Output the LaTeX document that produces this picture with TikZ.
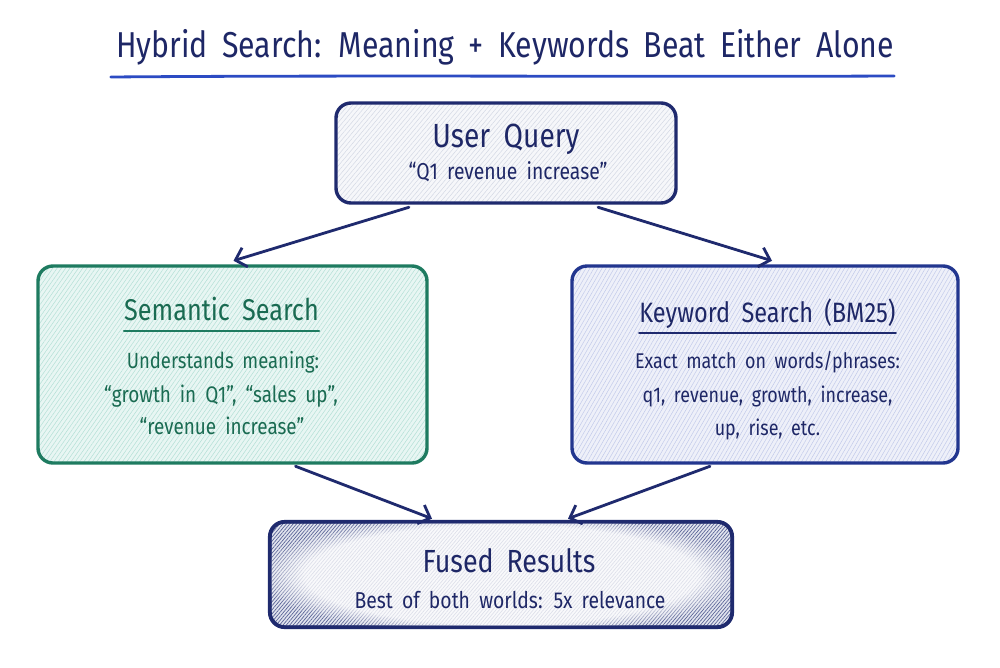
\documentclass[tikz,border=0pt]{standalone}
\usepackage{fontspec}
\setmainfont{Fira Sans}[FakeStretch=0.84,WordSpace=1.8]
\usetikzlibrary{arrows.meta,patterns.meta,fadings,calc}
\definecolor{navy}{HTML}{1F2A6E}
\definecolor{titletext}{HTML}{1E2766}
\definecolor{ulblue}{HTML}{2C4BC3}
\definecolor{green}{HTML}{1E7B60}
\definecolor{greentext}{HTML}{1A6B52}
\definecolor{semfill}{HTML}{E8F6F3}
\definecolor{semlines}{HTML}{B3DFD6}
\definecolor{kwborder}{HTML}{22368F}
\definecolor{kwfill}{HTML}{EEF0F9}
\definecolor{kwlines}{HTML}{C2CAEA}
\definecolor{uqfill}{HTML}{F6F7FA}
\definecolor{uqlines}{HTML}{D3D8E4}
\definecolor{fufill}{HTML}{E2E5EF}
\definecolor{fulines}{HTML}{5A6396}
\tikzset{
  box/.style={draw, rounded corners=15pt, line width=3.4pt, inner sep=0pt},
  uqbox/.style={box, draw=navy, preaction={fill=uqfill},
    pattern={Lines[angle=50,distance=3.5pt,line width=0.5pt]}, pattern color=uqlines},
  sembox/.style={box, draw=green, preaction={fill=semfill},
    pattern={Lines[angle=55,distance=3.5pt,line width=0.5pt]}, pattern color=semlines},
  kwbox/.style={box, draw=kwborder, preaction={fill=kwfill},
    pattern={Lines[angle=60,distance=3.5pt,line width=0.5pt]}, pattern color=kwlines},
  fubox/.style={box, draw=navy, preaction={fill=fufill},
    pattern={Lines[angle=50,distance=2.6pt,line width=0.7pt]}, pattern color=fulines},
  maintitle/.style={anchor=base, text=titletext, font=\fontsize{36}{40}\selectfont, inner sep=0pt},
  boxtitle/.style={anchor=base, inner sep=0pt},
  boxbody/.style={anchor=base, inner sep=0pt},
  conn/.style={draw=navy, line width=2.8pt, line cap=round,
    -{Straight Barb[length=10pt,width=20pt,line width=2.8pt]}},
}
\begin{document}
\begin{tikzpicture}[x=1pt,y=-1pt]
\useasboundingbox (0,0) rectangle (1000,667);
\fill[white] (0,0) rectangle (1000,667);

% title
\node[maintitle] (title) at (505,57) {Hybrid Search: Meaning + Keywords Beat Either Alone};
\draw[ulblue, line width=2.8pt, line cap=round] ($(title.base west)+(-5,20)$) .. controls ($(title.base)+(-150,18)$) and ($(title.base)+(150,20)$) .. ($(title.base east)+(0,19)$);

% boxes
\node[uqbox, minimum width=340pt, minimum height=100pt] (uq) at (506,153) {};
\node[sembox, minimum width=389pt, minimum height=197pt] (sem) at (232.5,364.5) {};
\node[kwbox, minimum width=386pt, minimum height=197pt] (kw) at (765,364.5) {};
\node[fubox, minimum width=462pt, minimum height=105pt] (fu) at (501,574.5) {};
\fill[white, opacity=0.8, path fading=circle with fuzzy edge 20 percent] (fu.center) ellipse [x radius=245pt, y radius=62pt];
\draw[navy, line width=3.4pt, rounded corners=15pt] (fu.north west) rectangle (fu.south east);

% user query text
\node[boxtitle, text=titletext, font=\fontsize{33.5}{36}\selectfont] (uqt) at (506,147) {User Query};
\node[boxbody, text=titletext, font=\fontsize{23}{26}\selectfont] (uqs) at (508,179) {“Q1 revenue increase”};

% semantic text
\node[boxtitle, text=greentext, font=\fontsize{30}{34}\selectfont] (semt) at (221.5,320) {Semantic Search};
\draw[green, line width=2.4pt, line cap=round] ($(semt.base west)+(0,11)$) -- ($(semt.base east)+(0,11)$);
\node[boxbody, text=greentext, font=\fontsize{22}{26}\selectfont] (sem1) at (223,368) {Understands meaning:};
\node[boxbody, text=greentext, font=\fontsize{22.5}{26}\selectfont] (sem2) at (221,402) {“growth in Q1”, “sales up”,};
\node[boxbody, text=greentext, font=\fontsize{22.5}{26}\selectfont] (sem3) at (222,434) {“revenue increase”};

% keyword text
\node[boxtitle, text=titletext, font=\fontsize{28}{32}\selectfont] (kwt) at (767.5,322) {Keyword Search (BM25)};
\draw[navy, line width=2.4pt, line cap=round] ($(kwt.base west)+(0,11)$) -- ($(kwt.base east)+(0,11)$);
\node[boxbody, text=titletext, font=\fontsize{21.3}{24}\selectfont] (kw1) at (767.5,368) {Exact match on words/phrases:};
\node[boxbody, text=titletext, font=\fontsize{21.3}{24}\selectfont] (kw2) at (767.5,402) {q1, revenue, growth, increase,};
\node[boxbody, text=titletext, font=\fontsize{21.3}{24}\selectfont] (kw3) at (767.5,435) {up, rise, etc.};

% fused text
\node[boxtitle, text=titletext, font=\fontsize{32}{36}\selectfont] (fut) at (509,572) {Fused Results};
\node[boxbody, text=titletext, font=\fontsize{23}{26}\selectfont] (fus) at (510,608) {Best of both worlds: 5x relevance};

% connectors
\draw[conn] ($(uq.south)+(-97,4)$) -- ($(sem.north)+(1,-5)$);
\draw[conn] ($(uq.south)+(92,4)$) -- ($(kw.north)+(7,-5)$);
\draw[conn] ($(sem.south)+(63,3)$) -- ($(fu.north)+(-69,-3)$);
\draw[conn] ($(kw.south)+(-55,3)$) -- ($(fu.north)+(67,-3)$);
\end{tikzpicture}
\end{document}
